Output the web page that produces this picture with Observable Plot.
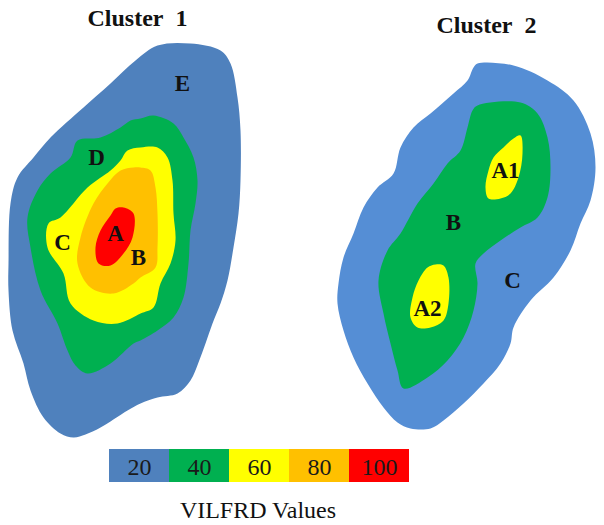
<!DOCTYPE html>
<html>
<head>
<meta charset="utf-8">
<script src="https://cdn.jsdelivr.net/npm/d3@7"></script>
<script src="https://cdn.jsdelivr.net/npm/@observablehq/plot@0.6"></script>
<style>
  html, body { margin: 0; padding: 0; background: #fff; }
  #wrap { position: relative; width: 604px; height: 525px; overflow: hidden; font-family: "Liberation Serif", "Times New Roman", serif; }
  #map { position: absolute; left: 0; top: 0; }
  #legend { position: absolute; left: 108px; top: 449px; }
  #caption { position: absolute; left: 0; width: 516px; top: 499px; text-align: center; font-size: 24px; line-height: 22px; color: #111; }
</style>
</head>
<body>
<div id="wrap">
  <div id="map"></div>
  <div id="legend"></div>
  <div id="caption">VILFRD Values</div>
</div>
<script>
// ---- Cluster 1 contour outlines (map units) ----
const c1E = [[157,45],[190,43],[220,50],[230,63],[237,97],[240,130],[240,180],[238,213],[233,247],[227,280],[220,303],[212,323],[205,343],[198,362],[190,380],[177,393],[157,397],[140,403],[127,410],[100,427],[85,434],[73,437],[60,433],[43,417],[30,390],[23,363],[12,330],[8,290],[8,263],[10,203],[17,177],[33,157],[50,137],[83,107],[110,83],[135,60]];
const c1D = [[140,118],[153,115],[173,123],[183,137],[193,157],[197,180],[195,203],[190,230],[188,263],[183,297],[173,317],[157,330],[140,340],[133,343],[110,363],[87,373],[75,365],[67,350],[57,323],[40,290],[30,247],[27,217],[37,190],[50,173],[70,157],[77,140],[100,137],[120,127],[130,120]];
const c1C = [[127,150],[140,147],[157,147],[167,157],[172,180],[173,213],[175,240],[170,263],[160,283],[153,307],[140,313],[117,323],[93,320],[70,303],[63,273],[47,247],[48,223],[60,217],[87,187],[110,170],[120,160]];
const c1B = [[133,167],[140,167],[150,170],[155,187],[157,213],[157,247],[155,267],[140,277],[133,283],[113,293],[90,287],[77,263],[80,237],[93,203],[107,183],[120,170]];
const c1A = [[123,207],[133,213],[132,237],[123,253],[110,265],[98,263],[95,247],[100,230],[110,215],[115,208]];

// ---- Cluster 2 contour outlines (map units) ----
const c2C = [[477,63],[513,65],[547,80],[573,100],[590,133],[595,167],[590,200],[580,223],[570,250],[553,277],[530,300],[513,327],[510,343],[500,363],[483,383],[463,403],[443,420],[430,428],[410,428],[397,422],[383,407],[367,383],[353,357],[343,330],[337,303],[338,283],[343,257],[353,233],[363,207],[377,187],[393,173],[400,147],[413,127],[430,113],[453,93],[467,80],[473,67]];
const c2B = [[477,105],[520,102],[537,113],[547,137],[550,167],[547,197],[537,217],[520,227],[500,240],[483,253],[475,263],[477,283],[473,310],[463,337],[447,360],[427,377],[403,388],[397,370],[390,343],[383,313],[378,280],[387,250],[400,233],[417,203],[433,183],[447,163],[460,150],[467,127],[472,110]];
const c2A1 = [[520,135],[522,153],[518,177],[510,193],[500,198],[488,198],[485,187],[488,170],[493,157],[503,147],[513,138]];
const c2A2 = [[443,265],[448,277],[448,303],[443,320],[430,327],[417,327],[410,317],[412,297],[418,280],[427,267],[435,264]];

// ---- zone labels ----
const labelText = ["E","D","C","A","B","A1","B","A2","C"];
const labelX = [182,96,62,115,138,505,453,427,512];
const labelY = [83,157,242,233,257,170,222,308,280];

// ---- titles ----
const titles = ["Cluster\u00a0 1", "Cluster\u00a0 2"];
const titleX = [137,486];
const titleY = [25,32];

// ---- legend ----
const legendValues = [20,40,60,80,100];
const legendColors = ["#4F81BD","#00B050","#FFFF00","#FFC000","#FF0000"];

const poly = (data, fill) => Plot.line(data, {x: d => d[0], y: d => d[1], fill, stroke: "none", curve: "catmull-rom-closed"});

const map = Plot.plot({
  width: 604, height: 525,
  margin: 0,
  x: {domain: [0, 604], axis: null},
  y: {domain: [0, 525], reverse: true, axis: null},
  style: {fontFamily: "Liberation Serif, Times New Roman, serif", background: "transparent"},
  marks: [
    poly(c1E, "#4F81BD"),
    poly(c1D, "#00B050"),
    poly(c1C, "#FFFF00"),
    poly(c1B, "#FFC000"),
    poly(c1A, "#FF0000"),
    poly(c2C, "#558ED5"),
    poly(c2B, "#00B050"),
    poly(c2A1, "#FFFF00"),
    poly(c2A2, "#FFFF00"),
    Plot.text(labelText, {x: (d,i) => labelX[i], y: (d,i) => labelY[i], text: d => d, fontSize: 23, fontWeight: "bold", fill: "#111"}),
    Plot.text(titles, {x: (d,i) => titleX[i], y: (d,i) => titleY[i], text: d => d, fontSize: 24, fontWeight: "bold", fill: "#111", lineAnchor: "bottom"})
  ]
});
document.getElementById("map").append(map);

const legend = Plot.plot({
  width: 302, height: 33,
  margin: 0,
  x: {type: "band", domain: legendValues, padding: 0, axis: null},
  color: {type: "ordinal", domain: legendValues, range: legendColors},
  style: {fontFamily: "Liberation Serif, Times New Roman, serif", background: "transparent"},
  marks: [
    Plot.cell(legendValues, {x: d => d, fill: d => d}),
    Plot.text(legendValues, {x: d => d, text: d => String(d), fontSize: 24, fill: "#1a1a1a", dy: 1, frameAnchor: "middle"})
  ]
});
document.getElementById("legend").append(legend);
</script>
</body>
</html>
